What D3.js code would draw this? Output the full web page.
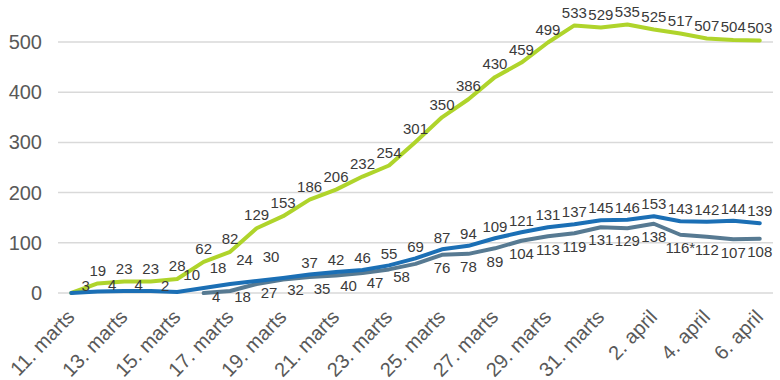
<!DOCTYPE html>
<html>
<head>
<meta charset="utf-8">
<script src="https://cdn.jsdelivr.net/npm/d3@7"></script>
<style>
  html, body { margin: 0; padding: 0; background: #fff; }
  svg { display: block; font-family: "Liberation Sans", Arial, sans-serif; }
</style>
</head>
<body>
<svg id="chart" width="780" height="380"></svg>
<script>
// ---- data ----
const dates = [
  "11. marts","12. marts","13. marts","14. marts","15. marts","16. marts","17. marts",
  "18. marts","19. marts","20. marts","21. marts","22. marts","23. marts","24. marts",
  "25. marts","26. marts","27. marts","28. marts","29. marts","30. marts","31. marts",
  "1. april","2. april","3. april","4. april","5. april","6. april"
];
const yTicks = [0, 100, 200, 300, 400, 500];
const hospitalized = [0,19,23,23,28,62,82,129,153,186,206,232,254,301,350,386,430,459,499,533,529,535,525,517,507,504,503];
const intensive = [0,3,4,4,2,10,18,24,30,37,42,46,55,69,87,94,109,121,131,137,145,146,153,143,142,144,139];
const ventilator = [null,null,null,null,null,0,4,18,27,32,35,40,47,58,76,78,89,104,113,119,131,129,138,116,112,107,108];
const ventilatorNotes = ["","","","","","","","","","","","","","","","","","","","","","","","*","","",""];

// ---- layout ----
const svg = d3.select("#chart");
const left = 58, right = 773, y0px = 293, unit = 0.502;
const yMax = 560;

const x = d3.scalePoint().domain(dates).range([left, right]).padding(0.5);
const y = d3.scaleLinear().domain([0, yMax]).range([y0px, y0px - yMax * unit]);

// grid
svg.append("g").selectAll("line").data(yTicks).join("line")
  .attr("x1", left).attr("x2", right)
  .attr("y1", d => y(d)).attr("y2", d => y(d))
  .attr("stroke", "#d9d9d9").attr("stroke-width", 1.5);

// y axis
const yAxis = d3.axisLeft(y).tickValues(yTicks).tickSize(0).tickPadding(0);
const gy = svg.append("g").attr("transform", `translate(42,0)`).call(yAxis);
gy.select(".domain").remove();
gy.selectAll("text").attr("font-size", 20).attr("fill", "#595959")
  .attr("font-family", "Liberation Sans, Arial, sans-serif");

// x axis
const xAxis = d3.axisBottom(x).tickValues(dates.filter((d, i) => i % 2 === 0)).tickSize(0).tickPadding(0);
const gx = svg.append("g").attr("transform", `translate(0,${y0px})`).call(xAxis);
gx.select(".domain").remove();
gx.selectAll("text")
  .attr("font-size", 20).attr("fill", "#595959")
  .attr("font-family", "Liberation Sans, Arial, sans-serif")
  .attr("text-anchor", "end")
  .attr("dy", null).attr("y", null)
  .attr("transform", "translate(4,25) rotate(-46)");

// lines
const series = [
  { name: "hospitalized", values: hospitalized, color: "#afd42b" },
  { name: "ventilator", values: ventilator, color: "#577a92" },
  { name: "intensive", values: intensive, color: "#1b6fb5" }
];
const line = d3.line()
  .defined(d => d.v !== null)
  .x(d => x(d.date)).y(d => y(d.v));

series.forEach(s => {
  const pts = dates.map((date, i) => ({ date, v: s.values[i], i }));
  svg.append("path").datum(pts)
    .attr("fill", "none").attr("stroke", s.color).attr("stroke-width", 4)
    .attr("stroke-linejoin", "round").attr("stroke-linecap", "round")
    .attr("d", line);
});

// labels
const lbl = svg.append("g").attr("font-size", 15).attr("fill", "#3a3a3a")
  .attr("text-anchor", "middle").attr("font-family", "Liberation Sans, Arial, sans-serif");

// green: centred above
dates.forEach((date, i) => {
  const v = hospitalized[i];
  if (!v) return;
  lbl.append("text").attr("x", x(date)).attr("y", y(v) - 13).attr("dy", "0.35em").text(v);
});

// blue: above, shifted left in early (crowded) phase, kept below the green line
const blueShiftEnd = dates.indexOf("20. marts");
dates.forEach((date, i) => {
  const v = intensive[i];
  if (!v) return;
  let lx = x(date), ly = y(v) - 12;
  if (i < blueShiftEnd) {
    lx -= 12;
    const mid = (y(v) + y(hospitalized[i])) / 2;
    ly = Math.max(Math.min(mid, y(v) - 6), y(v) - 21);
  }
  lbl.append("text").attr("x", lx).attr("y", ly).attr("dy", "0.35em").text(v);
});

// gray: below
const grayShiftEnd = dates.indexOf("25. marts");
dates.forEach((date, i) => {
  const v = ventilator[i];
  if (!v) return;
  let lx = x(date), ly = Math.min(y(v) + 13, y(0) + 4);
  if (i < grayShiftEnd) lx -= 14;
  lbl.append("text").attr("x", lx).attr("y", ly).attr("dy", "0.35em").text(v + ventilatorNotes[i]);
});
</script>
</body>
</html>
